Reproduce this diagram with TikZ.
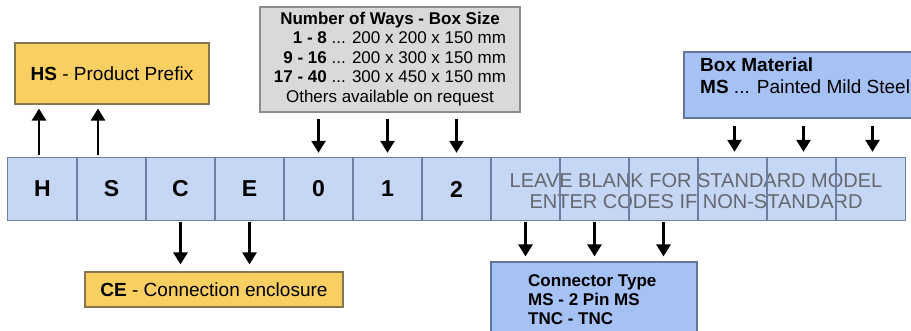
\documentclass[tikz,border=0pt]{standalone}
\usepackage{fontspec}
\setmainfont{Liberation Sans}
\usetikzlibrary{arrows.meta,calc}
\definecolor{yel}{HTML}{F9CF62}
\definecolor{yelline}{HTML}{857650}
\definecolor{cellfill}{HTML}{C6D6F5}
\definecolor{cellline}{HTML}{6E7E9E}
\definecolor{bluefill}{HTML}{A6C1F3}
\definecolor{blueline}{HTML}{66769A}
\definecolor{grayfill}{HTML}{D9D9D9}
\definecolor{grayline}{HTML}{8C8C8C}
\definecolor{graytext}{HTML}{63676E}
\begin{document}
\begin{tikzpicture}[x=1pt,y=-1pt,
  cell/.style={fill=cellfill, minimum width=69pt, minimum height=62pt, inner sep=0pt, font=\fontsize{23}{25}\selectfont\bfseries},
  cellborder/.style={draw=cellline, line width=1.1pt},
  yelbox/.style={draw=yelline, fill=yel, line width=1.1pt, inner sep=0pt, font=\fontsize{19}{21}\selectfont},
  bluebox/.style={draw=blueline, fill=bluefill, line width=1.1pt, inner sep=0pt},
  graybox/.style={draw=grayline, fill=grayfill, line width=1.1pt, inner sep=0pt, font=\fontsize{17}{19.5}\selectfont},
  arr/.style={-{Triangle[width=14pt,length=12pt]}, line width=2.6pt, black},
]
\useasboundingbox (0,0) rectangle (911,330);
\clip (0,0) rectangle (911,330);
\fill[white] (0,0) rectangle (911,330);

% code cells
\foreach \i/\t in {1/H,2/S,3/C,4/E,5/0,6/1,7/2,8/{},9/{},10/{},11/{},12/{},13/{}}
  \node[cell] (c\i) at ({8+69*(\i-0.5)},189) {\t};
\node[text=graytext, align=center, inner sep=0pt, font=\fontsize{20}{21}\selectfont] (blank) at (696,191)
  {LEAVE BLANK FOR STANDARD MODEL\\ENTER CODES IF NON-STANDARD};
\foreach \i in {1,...,13}
  \draw[cellborder] (c\i.south west) rectangle (c\i.north east);

% boxes
\node[yelbox, minimum width=194pt, minimum height=61pt] (hs) at (112,73.5) {\textbf{HS} - Product Prefix};
\node[graybox, minimum width=260pt, minimum height=105pt] (ways) at (390,59.5)
  {\begin{tabular}{@{}r@{}}
   \multicolumn{1}{@{}c@{}}{\bfseries Number of Ways - Box Size}\\
   \textbf{1 - 8} ... 200 x 200 x 150 mm\\
   \textbf{9 - 16} ... 200 x 300 x 150 mm\\
   \textbf{17 - 40} ... 300 x 450 x 150 mm\\
   \multicolumn{1}{@{}c@{}}{Others available on request}
   \end{tabular}};
\node[bluebox, minimum width=266pt, minimum height=66pt] (mat) at (817,85) {};
\node[anchor=north west, align=left, inner sep=0pt, font=\fontsize{19}{22}\selectfont] (mattxt) at (700,58)
  {\textbf{Box Material}\\\textbf{MS} ... Painted Mild Steel};
\node[yelbox, minimum width=258pt, minimum height=35pt] (ce) at (214,289.5) {\textbf{CE} - Connection enclosure};
\node[bluebox, minimum width=206pt, minimum height=90pt] (conn) at (594,307) {};
\node[anchor=north west, align=left, inner sep=0pt, font=\fontsize{17}{19}\selectfont\bfseries] (conntxt) at (528,274)
  {Connector Type\\MS - 2 Pin MS\\TNC - TNC};

% arrows up to HS
\coordinate (h1) at ([xshift=-3.5pt]c1.north);
\coordinate (h2) at ([xshift=-13.5pt]c2.north);
\foreach \p in {h1,h2}
  \draw[arr, shorten <=3pt, shorten >=4pt] (\p) -- (\p |- hs.south);

% arrows from ways box
\foreach \c in {c5,c6,c7}
  \draw[arr, shorten <=6pt, shorten >=5pt] (\c.north |- ways.south) -- (\c.north);

% arrows from material box
\foreach \c in {c11,c12,c13}
  \draw[arr, shorten <=7pt, shorten >=6pt] ([xshift=2pt]\c.north |- mat.south) -- ([xshift=2pt]\c.north);

% arrows down to CE
\foreach \c in {c3,c4}
  \draw[arr, shorten <=2pt, shorten >=7pt] (\c.south) -- (\c.south |- ce.north);

% arrows down to connector
\foreach \c in {c8,c9,c10}
  \draw[arr, shorten <=2pt, shorten >=5pt] (\c.south) -- (\c.south |- conn.north);
\end{tikzpicture}
\end{document}
